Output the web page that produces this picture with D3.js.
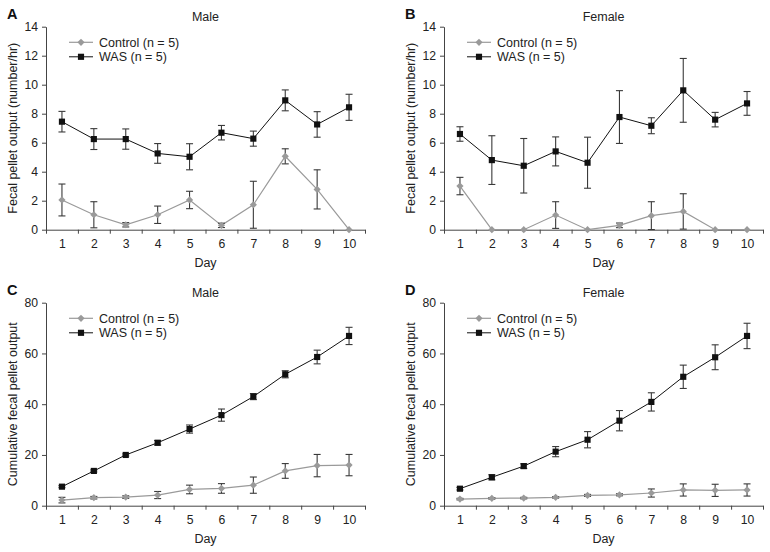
<!DOCTYPE html>
<html>
<head>
<meta charset="utf-8">
<script src="https://cdn.jsdelivr.net/npm/d3@7"></script>
<style>
  body { margin: 0; background: #fff; }
  svg { display: block; font-family: "Liberation Sans", Arial, sans-serif; }
</style>
</head>
<body>
<svg id="chart" width="770" height="552"></svg>
<script>
// ---- Data ----
const days = [1, 2, 3, 4, 5, 6, 7, 8, 9, 10];
const rateTicks = [0, 2, 4, 6, 8, 10, 12, 14];
const cumTicks = [0, 20, 40, 60, 80];
const seriesNames = ["Control (n = 5)", "WAS (n = 5)"];

// A: Male, fecal pellet output (number/hr)
const maleRateControl    = [2.05, 1.03, 0.34, 1.03, 2.05, 0.30, 1.72, 5.06, 2.78, 0.00];
const maleRateControlErr = [1.10, 0.90, 0.15, 0.60, 0.60, 0.15, 1.62, 0.52, 1.35, 0.00];
const maleRateWAS        = [7.45, 6.25, 6.25, 5.26, 5.03, 6.69, 6.28, 8.92, 7.26, 8.44];
const maleRateWASErr     = [0.71, 0.72, 0.70, 0.68, 0.90, 0.50, 0.52, 0.72, 0.88, 0.90];

// B: Female, fecal pellet output (number/hr)
const femaleRateControl    = [3.01, 0.00, 0.00, 1.01, 0.00, 0.30, 0.97, 1.26, 0.00, 0.00];
const femaleRateControlErr = [0.60, 0.00, 0.00, 0.92, 0.00, 0.16, 0.96, 1.22, 0.00, 0.00];
const femaleRateWAS        = [6.60, 4.80, 4.41, 5.40, 4.62, 7.77, 7.17, 9.61, 7.59, 8.71];
const femaleRateWASErr     = [0.50, 1.68, 1.88, 1.00, 1.76, 1.82, 0.55, 2.20, 0.50, 0.82];

// C: Male, cumulative fecal pellet output
const maleCumControl    = [2.2, 3.15, 3.4, 4.2, 6.4, 6.8, 8.1, 13.7, 15.8, 16.0];
const maleCumControlErr = [1.1, 0.5, 0.5, 1.4, 1.7, 1.9, 3.2, 2.9, 4.4, 4.2];
const maleCumWAS        = [7.5, 13.7, 20.0, 24.8, 30.2, 35.7, 43.0, 51.8, 58.6, 66.9];
const maleCumWASErr     = [0.4, 0.4, 0.4, 0.9, 1.6, 2.4, 1.2, 1.4, 2.7, 3.4];

// D: Female, cumulative fecal pellet output
const femaleCumControl    = [2.6, 2.9, 3.0, 3.3, 4.05, 4.3, 5.0, 6.2, 6.05, 6.2];
const femaleCumControlErr = [0.3, 0.3, 0.3, 0.3, 0.4, 0.4, 1.6, 2.4, 2.4, 2.4];
const femaleCumWAS        = [6.7, 11.2, 15.6, 21.3, 26.0, 33.5, 40.9, 50.8, 58.5, 66.9];
const femaleCumWASErr     = [0.5, 1.0, 0.9, 2.0, 3.2, 4.0, 3.6, 4.6, 4.9, 5.0];

// ---- Panels ----
const panels = [
  { letter: "A", title: "Male", ox: 0, oy: 0, ticks: rateTicks, ymax: 14,
    ylabel: "Fecal pellet output (number/hr)",
    ctrl: maleRateControl, ctrlErr: maleRateControlErr, was: maleRateWAS, wasErr: maleRateWASErr },
  { letter: "B", title: "Female", ox: 398, oy: 0, ticks: rateTicks, ymax: 14,
    ylabel: "Fecal pellet output (number/hr)",
    ctrl: femaleRateControl, ctrlErr: femaleRateControlErr, was: femaleRateWAS, wasErr: femaleRateWASErr },
  { letter: "C", title: "Male", ox: 0, oy: 276, ticks: cumTicks, ymax: 80,
    ylabel: "Cumulative fecal pellet output",
    ctrl: maleCumControl, ctrlErr: maleCumControlErr, was: maleCumWAS, wasErr: maleCumWASErr },
  { letter: "D", title: "Female", ox: 398, oy: 276, ticks: cumTicks, ymax: 80,
    ylabel: "Cumulative fecal pellet output",
    ctrl: femaleCumControl, ctrlErr: femaleCumControlErr, was: femaleCumWAS, wasErr: femaleCumWASErr }
];

const svg = d3.select("#chart");
const W = 319, H = 203;
const axisColor = "#444";
const ctrlColor = "#9a9a9a";
const wasColor = "#111";
const errColor = "#3a3a3a";

panels.forEach(p => {
  const g = svg.append("g").attr("transform", `translate(${p.ox},${p.oy})`);
  const plot = g.append("g").attr("transform", "translate(46,26.7)");

  const x = d3.scaleLinear().domain([0.5, 10.5]).range([0, W]);
  const y = d3.scaleLinear().domain([0, p.ymax]).range([H, 0]);

  // panel letter
  g.append("text").attr("x", 7).attr("y", 19)
    .attr("font-size", 14.5).attr("font-weight", "bold").attr("fill", "#111").text(p.letter);
  // title
  g.append("text").attr("x", 46 + W / 2).attr("y", 20.5).attr("text-anchor", "middle")
    .attr("font-size", 12.5).attr("fill", "#222").text(p.title);

  // y axis
  const ya = plot.append("g")
    .call(d3.axisLeft(y).tickValues(p.ticks).tickSize(4).tickPadding(4).tickSizeOuter(0));
  // x axis boundary ticks
  const xb = plot.append("g").attr("transform", `translate(0,${H})`)
    .call(d3.axisBottom(x).tickValues(d3.range(0.5, 11, 1)).tickSize(4).tickFormat("").tickSizeOuter(0));
  // x axis labels
  const xl = plot.append("g").attr("transform", `translate(0,${H})`)
    .call(d3.axisBottom(x).tickValues(days).tickSize(0).tickPadding(10).tickFormat(d3.format("d")));
  xl.select(".domain").remove();
  [ya, xb, xl].forEach(a => {
    a.selectAll("path, line").attr("stroke", axisColor).attr("stroke-width", 1);
    a.selectAll("text").attr("font-size", 12.2).attr("fill", "#222")
      .attr("font-family", '"Liberation Sans", Arial, sans-serif');
  });

  // axis titles
  g.append("text").attr("x", 46 + W / 2).attr("y", 266.5).attr("text-anchor", "middle")
    .attr("font-size", 12.5).attr("fill", "#222").text("Day");
  g.append("text").attr("transform", `translate(17,${26.7 + H / 2}) rotate(-90)`)
    .attr("text-anchor", "middle").attr("font-size", 12.5).attr("fill", "#222").text(p.ylabel);

  const series = [
    { vals: p.ctrl, err: p.ctrlErr, color: ctrlColor, rot: 45, lw: 1.2, size: 26 },
    { vals: p.was, err: p.wasErr, color: wasColor, rot: 0, lw: 1, size: 38 }
  ];

  series.forEach(s => {
    const pts = days.map((d, i) => ({ d, v: s.vals[i], e: s.err[i] }));
    // line
    plot.append("path").datum(pts)
      .attr("fill", "none").attr("stroke", s.color).attr("stroke-width", s.lw)
      .attr("d", d3.line().x(q => x(q.d)).y(q => y(q.v)));
    // error bars
    const eb = plot.append("g").selectAll("g").data(pts.filter(q => q.e > 0)).join("g")
      .attr("stroke", errColor).attr("stroke-width", 1.1);
    eb.append("line").attr("x1", q => x(q.d)).attr("x2", q => x(q.d))
      .attr("y1", q => y(q.v + q.e)).attr("y2", q => y(Math.max(0, q.v - q.e)));
    eb.append("line").attr("x1", q => x(q.d) - 3.5).attr("x2", q => x(q.d) + 3.5)
      .attr("y1", q => y(q.v + q.e)).attr("y2", q => y(q.v + q.e));
    eb.append("line").attr("x1", q => x(q.d) - 3.5).attr("x2", q => x(q.d) + 3.5)
      .attr("y1", q => y(Math.max(0, q.v - q.e))).attr("y2", q => y(Math.max(0, q.v - q.e)));
    // markers
    plot.append("g").selectAll("path").data(pts).join("path")
      .attr("transform", q => `translate(${x(q.d)},${y(q.v)}) rotate(${s.rot})`)
      .attr("d", d3.symbol().type(d3.symbolSquare).size(s.size))
      .attr("fill", s.color);
  });

  // legend
  const leg = g.append("g").attr("transform", "translate(69,0)");
  series.forEach((s, i) => {
    const yy = 42.3 + i * 14.5;
    leg.append("line").attr("x1", 0).attr("x2", 24).attr("y1", yy).attr("y2", yy)
      .attr("stroke", s.color).attr("stroke-width", s.lw);
    leg.append("path").attr("transform", `translate(12,${yy}) rotate(${s.rot})`)
      .attr("d", d3.symbol().type(d3.symbolSquare).size(s.size)).attr("fill", s.color);
    leg.append("text").attr("x", 30).attr("y", yy).attr("dy", "0.35em")
      .attr("font-size", 12.5).attr("fill", "#222").text(seriesNames[i]);
  });
});
</script>
</body>
</html>
